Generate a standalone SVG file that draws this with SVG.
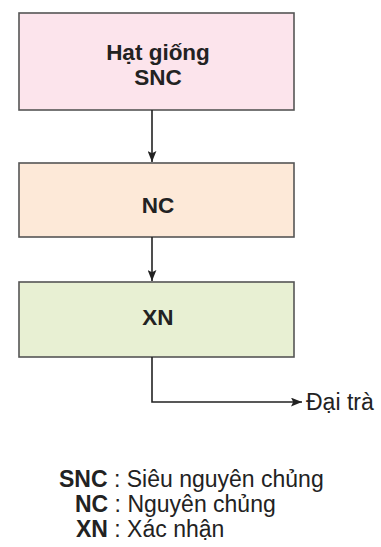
<svg xmlns="http://www.w3.org/2000/svg" width="381" height="547" viewBox="0 0 381 547">
<style>
.box{stroke:#555;stroke-width:1.6}
.lbl{font-family:"Liberation Sans",Arial,sans-serif;font-weight:bold;font-size:22.5px;fill:#222;text-anchor:middle}
.conn{stroke:#222;stroke-width:1.6;fill:none}
.txt{font-family:"Liberation Sans",Arial,sans-serif;font-size:23px;fill:#222}
.b{font-weight:bold}
</style>
<defs>
<marker id="ah" viewBox="0 0 10 8" refX="10" refY="4" markerWidth="11" markerHeight="9" markerUnits="userSpaceOnUse" orient="auto">
<path d="M0,0 L10,4 L0,8 L2,4 Z" fill="#222"/>
</marker>
</defs>
<rect width="381" height="547" fill="#fff"/>
<g id="node-snc">
<rect class="box" x="19" y="13" width="275" height="97" fill="#fce4ec"/>
<text class="lbl" x="158" y="60">Hạt giống</text>
<text class="lbl" x="158" y="85">SNC</text>
</g>
<g id="node-nc">
<rect class="box" x="19" y="163" width="275" height="74" fill="#fde9d8"/>
<text class="lbl" x="158" y="213">NC</text>
</g>
<g id="node-xn">
<rect class="box" x="19" y="282" width="275" height="75" fill="#e8f0d3"/>
<text class="lbl" x="158" y="325">XN</text>
</g>
<g id="connectors">
<path class="conn" d="M152,110 L152,162" marker-end="url(#ah)"/>
<path class="conn" d="M152,237 L152,281" marker-end="url(#ah)"/>
<path class="conn" d="M152,357 L152,402 L302,402" marker-end="url(#ah)"/>
</g>
<g id="node-daitra">
<text class="txt" x="306" y="410">Đại trà</text>
</g>
<g id="legend">
<text class="txt" x="59" y="487"><tspan class="b">SNC</tspan> : Siêu nguyên chủng</text>
<text class="txt" x="75" y="512"><tspan class="b">NC</tspan> : Nguyên chủng</text>
<text class="txt" x="76" y="537"><tspan class="b">XN</tspan> : Xác nhận</text>
</g>
</svg>
